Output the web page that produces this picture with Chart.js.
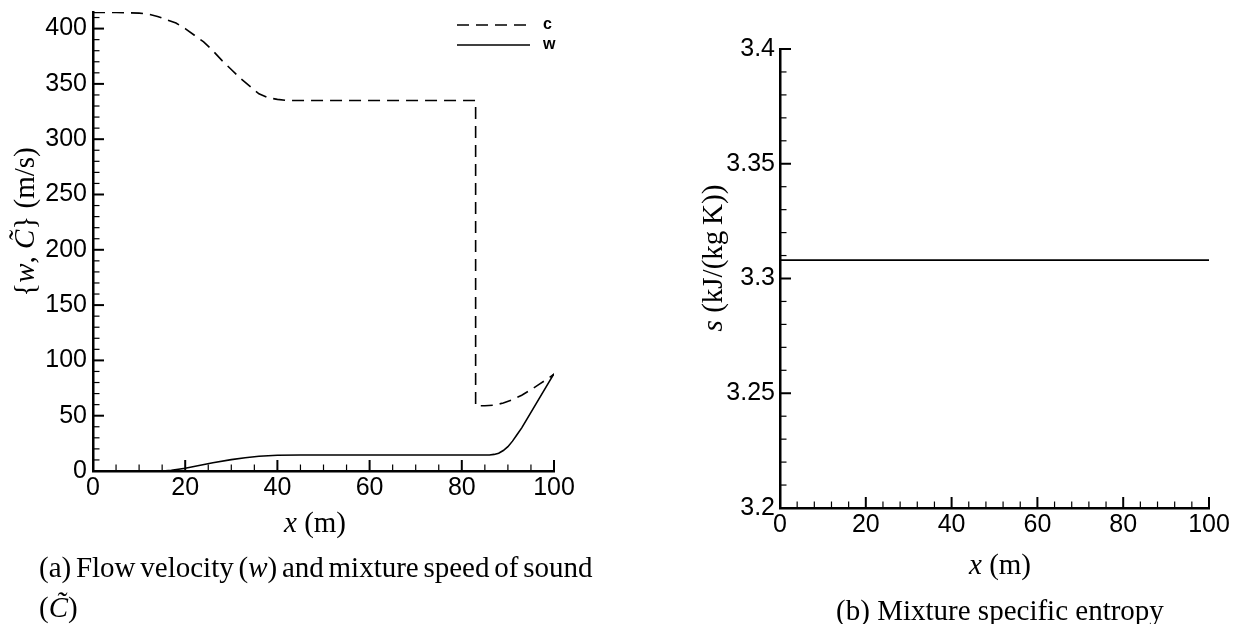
<!DOCTYPE html>
<html><head><meta charset="utf-8">
<script src="https://cdn.jsdelivr.net/npm/chart.js@4.4.1/dist/chart.umd.min.js"></script>
<style>
html,body{margin:0;padding:0;background:#fff;}
body{width:1235px;height:624px;position:relative;overflow:hidden;}
canvas{position:absolute;top:0;}
#cA{left:0;} #cB{left:620px;}
.cap{position:absolute;font-family:"Liberation Serif","Times New Roman",serif;font-size:29px;color:#000;white-space:nowrap;line-height:29px;}
</style></head><body>
<canvas id="cA" width="600" height="624"></canvas>
<canvas id="cB" width="615" height="624"></canvas>
<div class="cap" style="left:39px;top:553px;word-spacing:-2.5px;">(a) Flow velocity (<i>w</i>) and mixture speed of sound</div>
<div class="cap" style="left:39px;top:593px;">(<i>C&#771;</i>)</div>
<div class="cap" style="left:800px;width:400px;text-align:center;top:596px;">(b) Mixture specific entropy</div>
<script>
// ---- data ----
const cX = [0, 5, 10, 12, 14, 16, 18, 20, 22, 24, 26, 28, 30, 32, 34, 36, 38, 40, 42, 45, 83, 83, 85, 87, 89, 91, 93, 95, 97, 99, 100];
const cY = [414.5, 414.5, 414, 413, 411, 408, 405, 400, 394, 388, 380, 371, 363, 355, 348, 341, 337.5, 336, 335, 335, 335, 59, 59, 59.5, 61.5, 64.5, 68.5, 73.5, 79, 84.5, 87.5];
const wX = [0, 15, 17, 20, 23, 26, 30, 33, 36, 40, 45, 86, 87, 88, 89, 90, 91, 92, 93, 94, 95, 96, 97, 98, 99, 100];
const wY = [0, 0, 0.6, 2.5, 5, 7.5, 10.3, 12, 13.4, 14.3, 14.5, 14.5, 15, 16, 18.5, 22, 27, 33, 39, 46, 53, 60, 67, 74, 81, 88];
const sX = [0, 100];
const sY = [3.308, 3.308];
const seriesLabels = ['c', 'w'];
const xTicks = [0, 20, 40, 60, 80, 100];
const yTicksA = [0, 50, 100, 150, 200, 250, 300, 350, 400];
const yTicksB = [3.2, 3.25, 3.3, 3.35, 3.4];
const xTitleParts = [['x', true], [' (m)', false]];
const yTitleA = [['{', false], ['w', true], [', ', false], ['C\u0303', true], ['} (m/s)', false]];
const yTitleB = [['s', true], [' (kJ/(kg\u2009K))', false]];

const pts = (xs, ys) => xs.map((x, i) => ({x, y: ys[i]}));
const setTicks = arr => s => { s.ticks = arr.map(v => ({value: v})); };
const SERIF = "'Liberation Serif','Times New Roman',serif";
const SANS = "'Liberation Sans',Arial,Helvetica,sans-serif";
Chart.defaults.color = '#000';
Chart.defaults.font.family = SANS;

function drawRich(ctx, parts, size, cx, cy, rot) {
  ctx.save();
  ctx.translate(cx, cy);
  if (rot) ctx.rotate(rot);
  ctx.textBaseline = 'alphabetic';
  ctx.textAlign = 'left';
  ctx.fillStyle = '#000';
  let total = 0;
  const widths = parts.map(([t, it]) => {
    ctx.font = (it ? 'italic ' : '') + size + 'px ' + SERIF;
    const w = ctx.measureText(t).width; total += w; return w;
  });
  let x = -total / 2;
  parts.forEach(([t, it], i) => {
    ctx.font = (it ? 'italic ' : '') + size + 'px ' + SERIF;
    ctx.fillText(t, x, 0);
    x += widths[i];
  });
  ctx.restore();
}

const deco = {
  id: 'deco',
  afterDraw(chart, args, o) {
    const ctx = chart.ctx, xs = chart.scales.x, ys = chart.scales.y, ca = chart.chartArea;
    ctx.save();
    ctx.strokeStyle = '#000';
    const ticks = (sc, minor, major, isX) => {
      const n = Math.floor((sc.max - sc.min) / minor + 1e-6);
      for (let i = 0; i <= n; i++) {
        const v = sc.min + i * minor;
        const r = (v - sc.min) / major;
        const isMaj = Math.abs(r - Math.round(r)) < 1e-6;
        const len = isMaj ? 11 : 6.5;
        ctx.lineWidth = isMaj ? 2 : 1.2;
        const p = sc.getPixelForValue(v);
        ctx.beginPath();
        if (isX) { ctx.moveTo(p, ca.bottom); ctx.lineTo(p, ca.bottom - len); }
        else { ctx.moveTo(ca.left, p); ctx.lineTo(ca.left + len, p); }
        ctx.stroke();
      }
    };
    ticks(xs, o.xMinor, o.xMajor, true);
    ticks(ys, o.yMinor, o.yMajor, false);
    ctx.restore();
    drawRich(ctx, xTitleParts, 29, o.xTitle[0], o.xTitle[1], 0);
    drawRich(ctx, o.yTitle, 29, o.yTitlePos[0], o.yTitlePos[1], -Math.PI / 2);
    if (o.legend) {
      ctx.save();
      chart.data.datasets.forEach((ds, i) => {
        const y = ca.top + 13 + i * 20;
        ctx.strokeStyle = '#000';
        ctx.lineWidth = 1.6;
        ctx.setLineDash(ds.borderDash || []);
        ctx.beginPath(); ctx.moveTo(ca.right - 97, y); ctx.lineTo(ca.right - 24, y); ctx.stroke();
        ctx.setLineDash([]);
        ctx.font = 'bold 16px ' + SANS;
        ctx.fillStyle = '#000';
        ctx.textBaseline = 'middle';
        ctx.fillText(ds.label, ca.right - 11, y);
      });
      ctx.restore();
    }
  }
};

const tickFont = {family: SANS, size: 25};
const noGrid = {display: false, drawTicks: false};
const border = {display: true, color: '#000', width: 2.5};

new Chart(document.getElementById('cA'), {
  type: 'line',
  data: {datasets: [
    {label: seriesLabels[0], data: pts(cX, cY), borderColor: '#000', borderWidth: 1.6, borderDash: [12, 7], pointRadius: 0, tension: 0, fill: false},
    {label: seriesLabels[1], data: pts(wX, wY), borderColor: '#000', borderWidth: 1.6, pointRadius: 0, tension: 0, fill: false}
  ]},
  options: {
    responsive: false, animation: false, devicePixelRatio: 1,
    layout: {padding: {top: 12, right: 46, left: 0, bottom: 0}},
    plugins: {legend: {display: false}, tooltip: {enabled: false},
      deco: {xMinor: 5, xMajor: 20, yMinor: 10, yMajor: 50, xTitle: [315, 532], yTitle: yTitleA, yTitlePos: [34, 222], legend: true}},
    scales: {
      x: {type: 'linear', min: 0, max: 100, grid: noGrid, border,
        afterBuildTicks: setTicks(xTicks),
        ticks: {font: tickFont, padding: 2, maxRotation: 0, autoSkip: false},
        afterFit: s => { s.height = 624 - 471; s.paddingLeft = 0; s.paddingRight = 0; }},
      y: {type: 'linear', min: 0, max: 415, grid: noGrid, border,
        afterBuildTicks: setTicks(yTicksA),
        ticks: {font: tickFont, padding: 6, autoSkip: false},
        afterFit: s => { s.width = 93; s.paddingTop = 0; s.paddingBottom = 0; }}
    }
  },
  plugins: [deco]
});

new Chart(document.getElementById('cB'), {
  type: 'line',
  data: {datasets: [
    {label: 's', data: pts(sX, sY), borderColor: '#000', borderWidth: 1.6, pointRadius: 0, tension: 0, fill: false}
  ]},
  options: {
    responsive: false, animation: false, devicePixelRatio: 1,
    layout: {padding: {top: 49, right: 26, left: 0, bottom: 0}},
    plugins: {legend: {display: false}, tooltip: {enabled: false},
      deco: {xMinor: 4, xMajor: 20, yMinor: 0.01, yMajor: 0.05, xTitle: [380, 574], yTitle: yTitleB, yTitlePos: [102, 258], legend: false}},
    scales: {
      x: {type: 'linear', min: 0, max: 100, grid: noGrid, border,
        afterBuildTicks: setTicks(xTicks),
        ticks: {font: tickFont, padding: 2, maxRotation: 0, autoSkip: false},
        afterFit: s => { s.height = 624 - 508; s.paddingLeft = 0; s.paddingRight = 0; }},
      y: {type: 'linear', min: 3.2, max: 3.4, grid: noGrid, border,
        afterBuildTicks: setTicks(yTicksB),
        ticks: {font: tickFont, padding: 5, autoSkip: false, callback: v => String(Math.round(v * 100) / 100)},
        afterFit: s => { s.width = 160; s.paddingTop = 0; s.paddingBottom = 0; }}
    }
  },
  plugins: [deco]
});
</script>
</body></html>
